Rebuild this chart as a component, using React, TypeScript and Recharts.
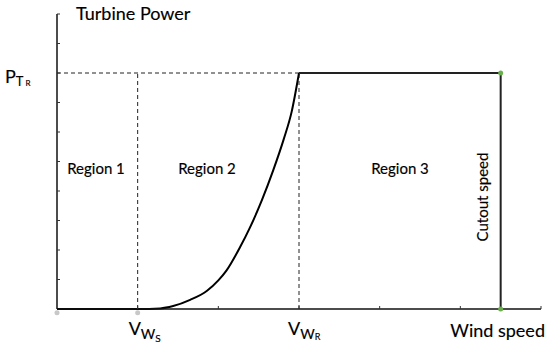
import { LineChart, Line, XAxis, YAxis, ReferenceLine, ReferenceDot, Customized } from 'recharts'

// wind speed (x) and turbine power (y), rated power = 8
const curveSpeed = [0, 1, 1.28, 1.44, 1.65, 1.86, 2, 2.1, 2.27, 2.39, 2.54, 2.68, 2.81, 2.91, 3]
const curvePower = [0, 0, 0.02, 0.1, 0.31, 0.62, 0.97, 1.3, 2.1, 2.75, 3.69, 4.7, 5.75, 6.7, 8]

const ratedSpeed = [3, 5.5, 5.5]
const ratedPower = [8, 8, 0]

const vStart = 1
const vRated = 3
const vCutout = 5.5
const pRated = 8

const xTicks = [0, 1, 2, 3, 4, 5, 5.5, 6]
const yTicks = [0, 1, 2, 3, 4, 5, 6, 7, 8, 9, 10]

const regions = ['Region 1', 'Region 2', 'Region 3']

const curveData = curveSpeed.map((v, i) => ({ v, p: curvePower[i] }))
const ratedData = ratedSpeed.map((v, i) => ({ v, p: ratedPower[i] }))

const FONT = 'Lato, "Open Sans", sans-serif'
const txt = { fontFamily: FONT, fill: '#000', stroke: '#000', strokeWidth: 0.15 }

function XTick(props: any) {
  const { x, y, payload } = props
  const val = payload.value
  const isInt = Number.isInteger(val)
  return (
    <g>
      {isInt && val > 0 && <line x1={x} x2={x} y1={y} y2={y - 3} stroke="#333" strokeWidth={1} />}
      {val === vStart && (
        <text x={x - 9} y={y + 26} {...txt}>
          <tspan fontSize={18}>V</tspan>
          <tspan fontSize={14} dy={4}>W</tspan>
          <tspan fontSize={10} dy={3}>S</tspan>
        </text>
      )}
      {val === vRated && (
        <text x={x - 11} y={y + 26} {...txt}>
          <tspan fontSize={18}>V</tspan>
          <tspan fontSize={14} dy={4}>W</tspan>
          <tspan fontSize={9} dy={1}>R</tspan>
        </text>
      )}
      {val === vCutout && (
        <text x={x - 3} y={y + 28} fontSize={18} textAnchor="middle" {...txt}>
          Wind speed
        </text>
      )}
    </g>
  )
}

function YTick(props: any) {
  const { x, y, payload } = props
  const val = payload.value
  return (
    <g>
      {val > 0 && <line x1={x} x2={x + 3} y1={y} y2={y} stroke="#333" strokeWidth={1} />}
      {val === pRated && (
        <text x={5} y={y + 10} {...txt}>
          <tspan fontSize={18}>P</tspan>
          <tspan fontSize={13} dy={3}>T</tspan>
          <tspan fontSize={8} dx={2} dy={0}>R</tspan>
        </text>
      )}
    </g>
  )
}

function Annotations() {
  return (
    <g {...txt}>
      <text x={76} y={20} fontSize={18}>Turbine Power</text>
      <text x={96} y={174} fontSize={15} textAnchor="middle">{regions[0]}</text>
      <text x={207} y={174} fontSize={15} textAnchor="middle">{regions[1]}</text>
      <text x={400} y={174} fontSize={15} textAnchor="middle">{regions[2]}</text>
      <text
        x={0}
        y={0}
        fontSize={15}
        textAnchor="middle"
        transform="translate(488,197) rotate(-90)"
      >
        Cutout speed
      </text>
    </g>
  )
}

export default function App() {
  return (
    <div style={{ position: 'absolute', left: 0, top: 0, width: 550, height: 346, background: '#fff' }}>
      <LineChart width={550} height={346} margin={{ top: 14, right: 9, bottom: 0, left: 0 }}>
        <XAxis
          dataKey="v"
          type="number"
          domain={[0, 6]}
          ticks={xTicks}
          height={37}
          tickSize={0}
          tickMargin={0}
          tickLine={false}
          axisLine={{ stroke: '#111', strokeWidth: 1.5 }}
          tick={<XTick />}
          interval={0}
        />
        <YAxis
          type="number"
          domain={[0, 10]}
          ticks={yTicks}
          width={57}
          tickSize={0}
          tickMargin={0}
          tickLine={false}
          axisLine={{ stroke: '#111', strokeWidth: 1.5 }}
          tick={<YTick />}
          interval={0}
        />
        <ReferenceLine
          segment={[{ x: 0, y: pRated }, { x: vRated, y: pRated }]}
          stroke="#222"
          strokeDasharray="4 3"
        />
        <ReferenceLine
          segment={[{ x: vStart, y: 0 }, { x: vStart, y: pRated }]}
          stroke="#222"
          strokeDasharray="4 3"
        />
        <ReferenceLine
          segment={[{ x: vRated, y: 0 }, { x: vRated, y: pRated }]}
          stroke="#222"
          strokeDasharray="4 3"
        />
        <Line
          data={curveData}
          dataKey="p"
          type="monotone"
          stroke="#000"
          strokeWidth={2}
          dot={false}
          isAnimationActive={false}
        />
        <Line
          data={ratedData}
          dataKey="p"
          type="linear"
          stroke="#222"
          strokeWidth={2}
          dot={false}
          isAnimationActive={false}
        />
        <ReferenceDot x={0} y={-0.13} r={2.5} fill="#c8c8c8" stroke="none" ifOverflow="visible" />
        <ReferenceDot x={vStart} y={-0.13} r={2.5} fill="#c8c8c8" stroke="none" ifOverflow="visible" />
        <ReferenceDot x={vCutout} y={pRated} r={2.5} fill="#6ab04c" stroke="none" />
        <ReferenceDot x={vCutout} y={0} r={2.5} fill="#6ab04c" stroke="none" ifOverflow="visible" />
        <Customized component={<Annotations />} />
      </LineChart>
    </div>
  )
}
